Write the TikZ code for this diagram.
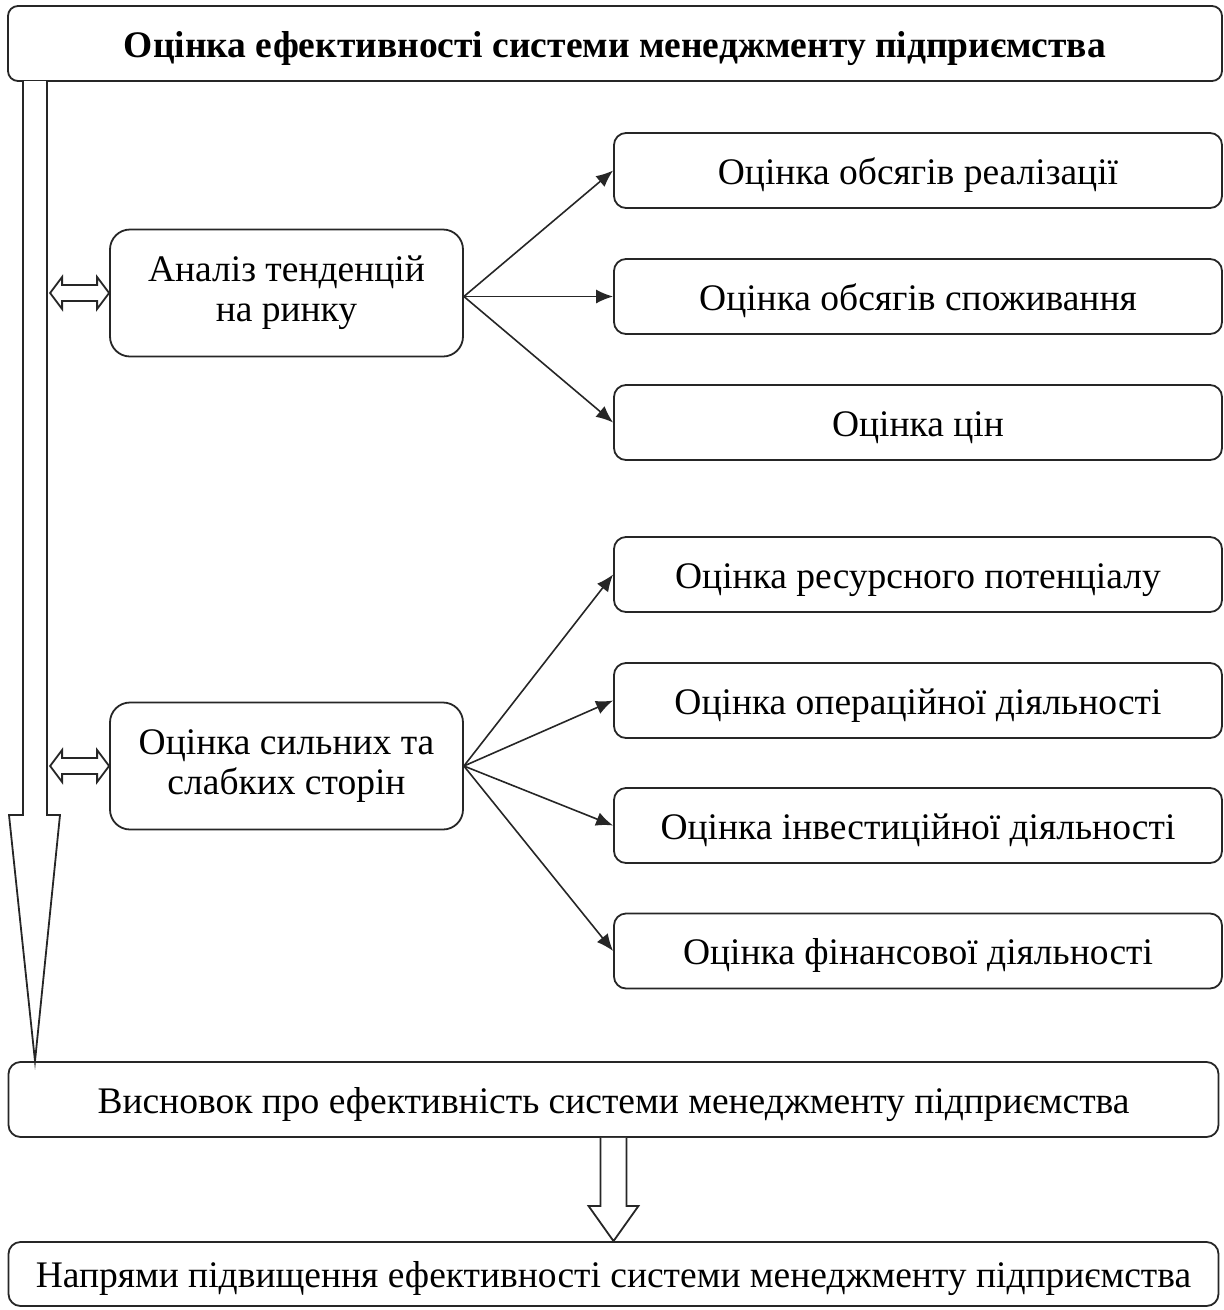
\documentclass[tikz,border=0pt]{standalone}
\usepackage{fontspec}
\setmainfont{Liberation Serif}
\usetikzlibrary{arrows.meta,calc}
\begin{document}
\begin{tikzpicture}[x=1pt,y=-1pt,
  box/.style={draw=black!85,line width=1.8pt,rounded corners=12pt,align=center,
    inner sep=0pt,font=\fontsize{37.5}{40}\selectfont},
  oneline/.style={text height=30pt,text depth=3pt},
  wide/.style={box,oneline,minimum width=1210pt,minimum height=75pt},
  rbox/.style={box,oneline,minimum width=608pt,minimum height=75pt},
  lbox/.style={box,rounded corners=20pt,minimum width=353pt,minimum height=127pt},
  conn/.style={line width=1.6pt,draw=black!85,-{Latex[length=17pt,width=14pt]}},
  blk/.style={draw=black!85,line width=1.8pt,fill=white,line join=miter}]
\useasboundingbox (0,0) rectangle (1224,1310);

\node[wide,minimum width=1214pt,rounded corners=10pt,font=\fontsize{37.5}{40}\selectfont\bfseries]
  (title) at (615,43.5) {Оцінка ефективності системи менеджменту підприємства};

\node[lbox] (market) at (286.5,293) {Аналіз тенденцій\\на ринку};
\node[lbox] (swot) at (286.5,766) {Оцінка сильних та\\слабких сторін};

\node[rbox] (r1) at (918,170.5) {Оцінка обсягів реалізації};
\node[rbox] (r2) at (918,296.5) {Оцінка обсягів споживання};
\node[rbox] (r3) at (918,422.5) {Оцінка цін};
\node[rbox] (r4) at (918,574.5) {Оцінка ресурсного потенціалу};
\node[rbox] (r5) at (918,700.5) {Оцінка операційної діяльності};
\node[rbox] (r6) at (918,825.5) {Оцінка інвестиційної діяльності};
\node[rbox] (r7) at (918,951) {Оцінка фінансової діяльності};

\node[wide] (concl) at (613.5,1099.5) {Висновок про ефективність системи менеджменту підприємства};
\node[wide,minimum height=64pt] (dir) at (613.5,1274) {Напрями підвищення ефективності системи менеджменту підприємства};

\coordinate (mo) at (market.east |- r2.west);
\foreach \t in {r1,r2,r3} \draw[conn] (mo) -- (\t.west);
\foreach \t in {r4,r5,r6,r7} \draw[conn] (swot.east) -- (\t.west);

% big vertical block arrow
\draw[blk] (23,81) -- (23,815) -- (9,815) -- (concl.north west -| 35,0) -- (60,815) -- (47,815) -- (47,81);

% double block arrows
\foreach \n in {market,swot}{
  \path (\n.west) coordinate (tip);
  \draw[blk] (tip) -- ++(-12,-16) -- ++(0,8) -- ++(-35,0) -- ++(0,-8) -- ++(-12,16)
     -- ++(12,16) -- ++(0,-8) -- ++(35,0) -- ++(0,8) -- cycle;
}

% small down block arrow
\draw[blk] ($(concl.south)+(-13,0)$) -- ++(0,68) -- ++(-12,0) -- (dir.north) -- ($(concl.south)+(25,68)$) -- ++(-12,0) -- ($(concl.south)+(13,0)$);
\end{tikzpicture}
\end{document}
